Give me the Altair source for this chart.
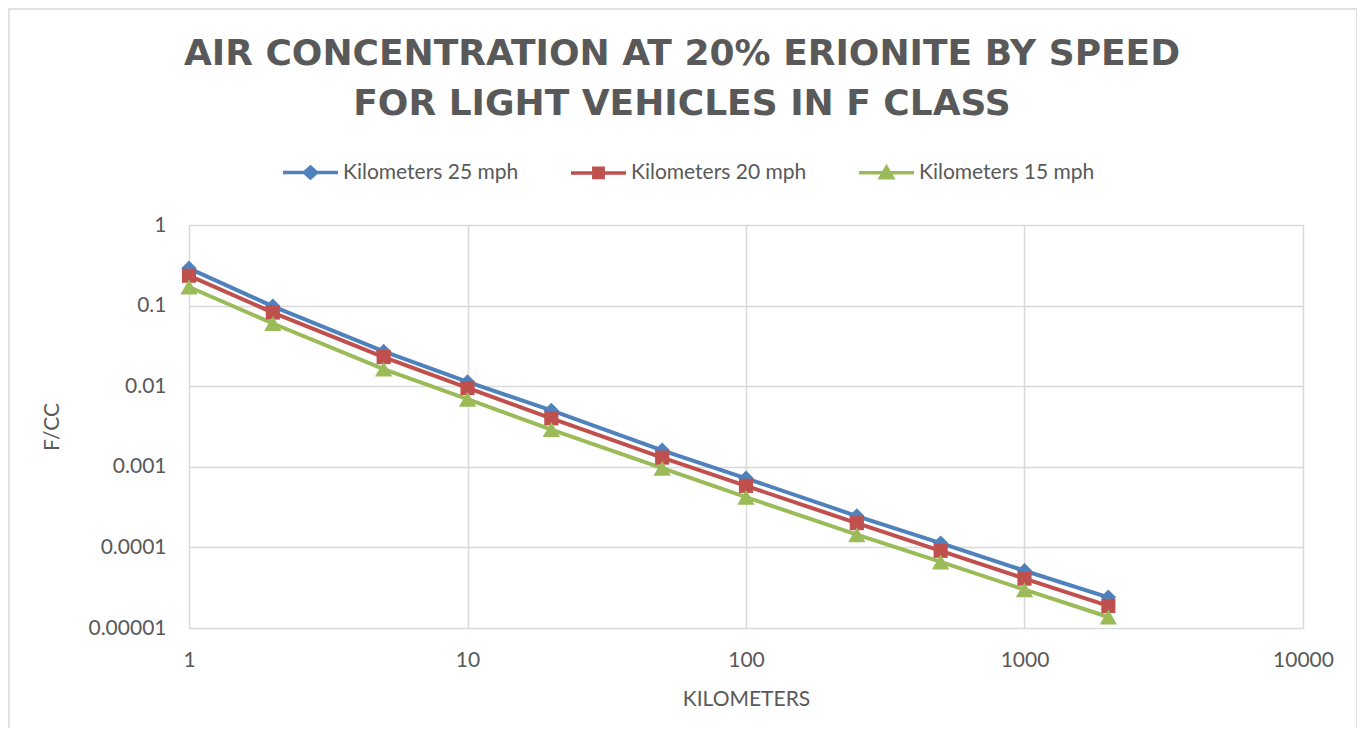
import altair as alt
import pandas as pd

km = [1, 2, 5, 10, 20, 50, 100, 250, 500, 1000, 2000]
series_names = ["Kilometers 25 mph", "Kilometers 20 mph", "Kilometers 15 mph"]
v25 = [0.29, 0.098, 0.027, 0.0113, 0.0050, 0.0016, 0.00072, 0.000245, 0.000113, 0.0000513, 0.000024]
v20 = [0.235, 0.082, 0.023, 0.0095, 0.0040, 0.0013, 0.00058, 0.000200, 0.0000908, 0.0000410, 0.0000188]
v15 = [0.17, 0.060, 0.0163, 0.0069, 0.0029, 0.00096, 0.00042, 0.000144, 0.000066, 0.0000299, 0.0000137]
colors = ["#4f81bd", "#c0504d", "#9bbb59"]
shapes = ["diamond", "square", "triangle-up"]
marker_sizes = [240, 200, 300]
legend_shapes = [
    "M-1,0H1M0,-0.2L0.22,0L0,0.2L-0.22,0Z",
    "M-1,0H1M-0.17,-0.17H0.17V0.17H-0.17Z",
    "M-1,0H1M0,-0.2L0.22,0.18H-0.22Z",
]
x_ticks = [1, 10, 100, 1000, 10000]
y_ticks = [0.00001, 0.0001, 0.001, 0.01, 0.1, 1]

rows = []
for name, vals in zip(series_names, [v25, v20, v15]):
    for k, v in zip(km, vals):
        rows.append({"km": k, "fcc": v, "series": name})
df = pd.DataFrame(rows)

text_color = "#595959"
grid_color = "#d9d9d9"
font = "Lato"

x_enc = alt.X("km:Q", scale=alt.Scale(type="log", domain=[1, 10000]),
              axis=alt.Axis(values=x_ticks, format="~f", title="KILOMETERS",
                            labelPadding=21, titlePadding=18, labelFlush=False))
y_enc = alt.Y("fcc:Q", scale=alt.Scale(type="log", domain=[0.00001, 1]),
              axis=alt.Axis(values=y_ticks, format="~f", title="F/CC",
                            labelPadding=23, titlePadding=25, labelFlush=False))

legend = alt.Legend(
    orient="none", direction="horizontal", columns=3, title=None,
    legendX=92, legendY=-82, symbolSize=3025, symbolStrokeWidth=3.5, symbolOpacity=1,
    labelFontSize=21, labelColor=text_color, labelFont=font, labelOffset=3,
    labelLimit=400, columnPadding=45,
)

base = alt.Chart(df)

frame = alt.Chart(alt.Data(values=[{"f": 1}])).mark_rect(
    fill=None, stroke=grid_color, strokeWidth=1.5
).encode(
    x=alt.value(-180), x2=alt.value(1168), y=alt.value(-216), y2=alt.value(560)
)

layers = [frame]
for name, col in zip(series_names, colors):
    layers.append(
        base.transform_filter(alt.datum.series == name)
        .mark_line(strokeWidth=4, color=col)
        .encode(x=x_enc, y=y_enc, order="km:Q")
    )
for name, col, shp, sz in zip(series_names, colors, shapes, marker_sizes):
    layers.append(
        base.transform_filter(alt.datum.series == name)
        .mark_point(filled=True, size=sz, opacity=1, shape=shp, color=col)
        .encode(x=x_enc, y=y_enc)
    )

color_scale = alt.Scale(domain=series_names, range=colors)
legend_layer = base.mark_point(
    filled=True, size=3025, opacity=0, strokeWidth=3.5
).encode(
    x=x_enc, y=y_enc,
    color=alt.Color("series:N", scale=color_scale, legend=legend),
    stroke=alt.Stroke("series:N", scale=color_scale, legend=legend),
    shape=alt.Shape("series:N", scale=alt.Scale(domain=series_names, range=legend_shapes),
                    legend=legend),
)
layers.append(legend_layer)

chart = alt.layer(*layers).properties(
    width=1114, height=403,
    background="white",
    padding={"left": 181, "top": 217, "right": 54, "bottom": 100},
    autosize=alt.AutoSizeParams(type="none"),
    title=alt.TitleParams(
        text=["AIR CONCENTRATION AT 20% ERIONITE BY SPEED", "FOR LIGHT VEHICLES IN F CLASS"],
        font="DejaVu Sans", fontSize=36, fontWeight="bold", color=text_color,
        anchor="middle", dx=-64, offset=-115, lineHeight=50,
    ),
).configure_view(stroke=grid_color).configure_axis(
    grid=True, gridColor=grid_color, gridWidth=1.5, domain=False, ticks=False,
    labelFont=font, labelFontSize=21, labelColor=text_color,
    titleFont=font, titleFontSize=21, titleColor=text_color, titleFontWeight="normal",
)

chart.save("out.html", embed_options={"renderer": "svg", "actions": False})
